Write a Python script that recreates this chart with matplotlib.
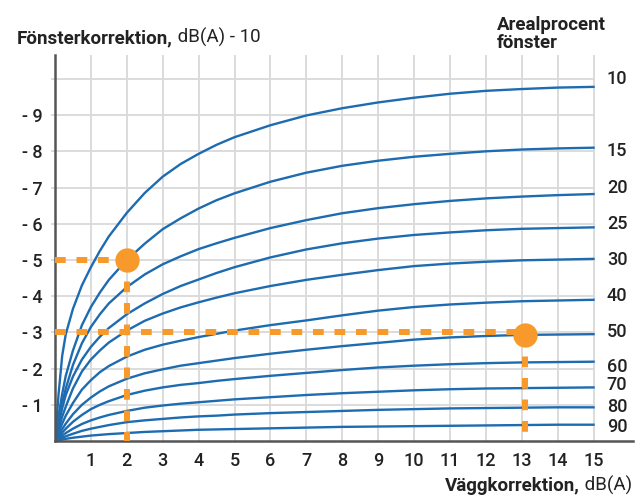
import numpy as np
import matplotlib
matplotlib.use('Agg')
from matplotlib import pyplot as plt

plt.rcParams['font.family'] = ['Roboto', 'DejaVu Sans']

x_read = [0, 0.1, 0.2, 0.3, 0.5, 0.75, 1, 1.25, 1.5, 2, 2.5, 3, 3.5, 4, 4.5,
          5, 6, 7, 8, 9, 10, 11, 12, 13, 14, 15]

# window correction per window area percentage
c10 = [0, 1.3, 2.35, 2.95, 3.65, 4.3, 4.8, 5.25, 5.65, 6.3, 6.85, 7.3, 7.65,
       7.93, 8.18, 8.39, 8.72, 8.99, 9.19, 9.35, 9.48, 9.59, 9.67, 9.72, 9.76, 9.78]
c15 = [0, 0.7, 1.3, 1.8, 2.5, 3.2, 3.7, 4.1, 4.45, 5.0, 5.45, 5.85, 6.15,
       6.42, 6.65, 6.84, 7.16, 7.41, 7.6, 7.74, 7.85, 7.93, 8.0, 8.05, 8.08, 8.10]
c20 = [0, 0.55, 1.05, 1.45, 2.1, 2.7, 3.15, 3.5, 3.8, 4.25, 4.6, 4.88, 5.1,
       5.3, 5.46, 5.61, 5.88, 6.10, 6.29, 6.43, 6.54, 6.63, 6.70, 6.75, 6.79, 6.82]
c25 = [0, 0.47, 0.9, 1.27, 1.78, 2.25, 2.6, 2.88, 3.12, 3.5, 3.8, 4.06, 4.28,
       4.46, 4.64, 4.8, 5.07, 5.29, 5.46, 5.59, 5.69, 5.76, 5.82, 5.86, 5.88, 5.90]
c30 = [0, 0.35, 0.67, 0.95, 1.45, 1.92, 2.25, 2.5, 2.72, 3.05, 3.32, 3.52, 3.69,
       3.83, 3.96, 4.08, 4.28, 4.45, 4.59, 4.72, 4.83, 4.9, 4.95, 4.99, 5.01, 5.03]
c40 = [0, 0.25, 0.48, 0.7, 1.05, 1.42, 1.68, 1.9, 2.07, 2.33, 2.52, 2.66, 2.77,
       2.87, 2.96, 3.05, 3.2, 3.33, 3.47, 3.6, 3.7, 3.77, 3.82, 3.86, 3.88, 3.90]
c50 = [0, 0.17, 0.33, 0.48, 0.74, 1.0, 1.2, 1.37, 1.51, 1.72, 1.87, 1.98, 2.08,
       2.15, 2.22, 2.29, 2.41, 2.52, 2.62, 2.71, 2.8, 2.86, 2.9, 2.93, 2.94, 2.95]
c60 = [0, 0.12, 0.23, 0.34, 0.53, 0.72, 0.88, 1.0, 1.1, 1.27, 1.39, 1.48, 1.55,
       1.6, 1.66, 1.71, 1.8, 1.88, 1.96, 2.03, 2.08, 2.12, 2.15, 2.17, 2.18, 2.19]
c70 = [0, 0.08, 0.15, 0.22, 0.34, 0.47, 0.57, 0.65, 0.72, 0.83, 0.92, 0.98, 1.03,
       1.07, 1.11, 1.15, 1.21, 1.27, 1.32, 1.36, 1.40, 1.43, 1.45, 1.46, 1.47, 1.48]
c80 = [0, 0.05, 0.09, 0.13, 0.2, 0.28, 0.34, 0.39, 0.44, 0.52, 0.57, 0.61, 0.65,
       0.68, 0.7, 0.73, 0.77, 0.8, 0.83, 0.86, 0.88, 0.9, 0.91, 0.92, 0.93, 0.93]
c90 = [0, 0.02, 0.04, 0.06, 0.09, 0.12, 0.15, 0.17, 0.19, 0.22, 0.25, 0.27, 0.29,
       0.31, 0.32, 0.33, 0.35, 0.37, 0.39, 0.40, 0.41, 0.42, 0.43, 0.44, 0.45, 0.45]

area_labels = ['10', '15', '20', '25', '30', '40', '50', '60', '70', '80', '90']
series = [c10, c15, c20, c25, c30, c40, c50, c60, c70, c80, c90]
# where the area labels sit on the right edge
label_y = [9.99, 8.0, 7.0, 6.0, 5.0, 4.0, 3.0, 2.05, 1.55, 0.94, 0.39]

# the two worked examples
examples_x = [2, 13.1]
examples_y = [5, 2.94]
example_levels = [5, 3]

x_ticks = list(range(1, 16))
y_ticks = list(range(1, 10))
y_tick_labels = [f'- {v}' for v in y_ticks]

BLUE = '#1d6bb0'
ORANGE = '#f7992b'
GRID = '#d9d9d9'
DARK = '#222222'

fig = plt.figure(figsize=(6.44, 4.97), dpi=100)
ax = fig.add_axes([55 / 644, 56 / 497, 578 / 644, 386 / 497])
ax.set_xlim(0, 16.1)
ax.set_ylim(0, 10.66)

# grid drawn by hand so it stops at x = 15
for xv in x_ticks:
    ax.axvline(xv, color=GRID, lw=1.3, zorder=0)
for yv in range(1, 11):
    ax.hlines(yv, -0.12, 15.05, color=GRID, lw=1.3, zorder=0, clip_on=False)

for name, vals, ly in zip(area_labels, series, label_y):
    ax.plot(x_read, vals, color=BLUE, lw=1.7, zorder=2,
            solid_joinstyle='round')
    ax.text(15.37, ly, name, ha='left', va='center', fontsize=13,
            fontweight='medium', color=DARK)

# dashed guide lines
for ex, ey, lev in zip(examples_x, examples_y, example_levels):
    h, = ax.plot([0, ex], [lev, lev], color=ORANGE, lw=4.3, zorder=3,
                 solid_capstyle='butt')
    h.set_dashes((1.8, 1.8))
    v, = ax.plot([ex, ex], [ey, 0], color=ORANGE, lw=4.3, zorder=3,
                 solid_capstyle='butt')
    v.set_dashes((1.8, 1.8))
ax.plot(examples_x, examples_y, 'o', color=ORANGE, ms=16.5, zorder=4)

ax.spines['top'].set_visible(False)
ax.spines['right'].set_visible(False)
for s in ('left', 'bottom'):
    ax.spines[s].set_color('#555555')
    ax.spines[s].set_linewidth(1.8)

ax.set_xticks(x_ticks)
ax.set_xticklabels([str(v) for v in x_ticks], fontweight='medium')
ax.set_yticks(y_ticks)
ax.set_yticklabels(y_tick_labels, fontweight='medium')
ax.tick_params(axis='both', length=0, labelsize=13, colors=DARK)
ax.tick_params(axis='x', pad=8)
ax.tick_params(axis='y', pad=9)

# titles with bold and regular parts
t1 = fig.text(17 / 644, 1 - 47 / 497, 'Fönsterkorrektion,', fontsize=13.5,
              fontweight='bold', color=DARK, ha='left', va='bottom')
ax.annotate(' dB(A) - 10', xy=(1, 0), xycoords=t1, fontsize=13.5,
            color=DARK, ha='left', va='bottom')

fig.text(497 / 644, 1 - 52 / 497, 'Arealprocent\nfönster', fontsize=13.5,
         fontweight='bold', color=DARK, ha='left', va='bottom',
         linespacing=1.0)

t2 = fig.text(632 / 644, 2 / 497, ' dB(A)', fontsize=13.5,
              color=DARK, ha='right', va='bottom')
ax.annotate('Väggkorrektion,', xy=(0, 0), xycoords=t2, fontsize=13.5,
            fontweight='bold', color=DARK, ha='right', va='bottom')

fig.savefig('out.png', dpi=100)
